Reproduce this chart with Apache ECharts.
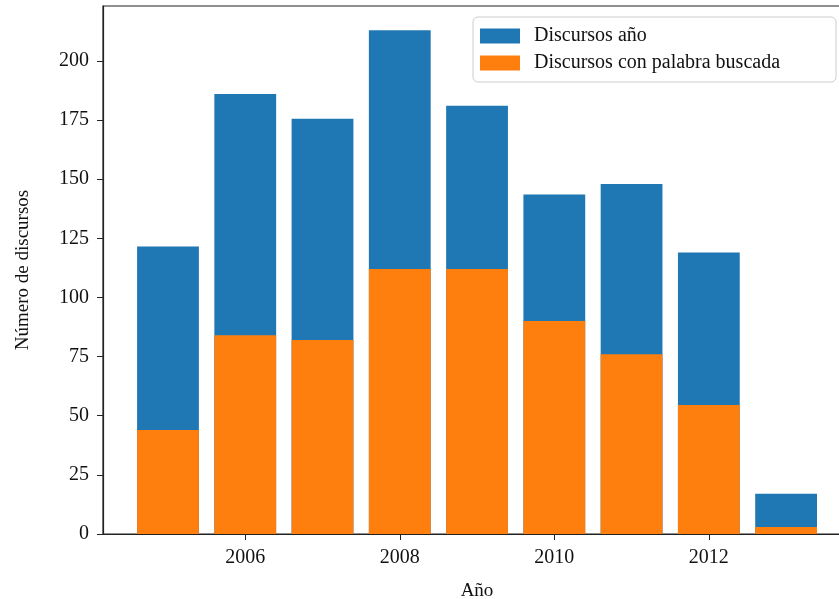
<!DOCTYPE html>
<html>
<head>
<meta charset="utf-8">
<script src="https://cdn.jsdelivr.net/npm/echarts@6/dist/echarts.min.js"></script>
<style>
  html, body { margin: 0; padding: 0; background: #fff; }
  #main { width: 839px; height: 599px; }
</style>
</head>
<body>
<div id="main"></div>
<script>
var years = [2005, 2006, 2007, 2008, 2009, 2010, 2011, 2012, 2013];
var totalSpeeches = [121.5, 186, 175.5, 213, 181, 143.5, 148, 119, 17];
var keywordSpeeches = [44, 84, 82, 112, 112, 90, 76, 54.5, 3];
var xTicks = [2006, 2008, 2010, 2012];
var yTicks = [0, 25, 50, 75, 100, 125, 150, 175, 200];

function pairs(vals) {
    var out = [];
    for (var i = 0, l = years.length; i < l; i++) {
        out.push([years[i], vals[i]]);
    }
    return out;
}

var myChart = echarts.init(document.getElementById('main'));
var font = 'Liberation Serif';

var option = {
    animation: false,
    textStyle: { fontFamily: font },
    grid: {
        left: 103,
        top: 6,
        width: 748,
        height: 528,
        containLabel: false,
        outerBoundsMode: 'none',
        show: true,
        borderColor: '#222',
        borderWidth: 1.2
    },
    legend: {
        orient: 'vertical',
        left: 473,
        top: 17,
        icon: 'rect',
        itemWidth: 40,
        itemHeight: 15,
        itemGap: 7,
        padding: [9, 56, 9, 7],
        borderColor: '#ccc',
        borderWidth: 1,
        borderRadius: 5,
        textStyle: { fontFamily: font, fontSize: 20, color: '#111', padding: [0, 0, 0, 9] },
        data: ['Discursos año', 'Discursos con palabra buscada']
    },
    xAxis: {
        type: 'value',
        min: 2004.159,
        max: 2013.84,
        name: 'Año',
        nameLocation: 'middle',
        nameGap: 48,
        nameTextStyle: { fontFamily: font, fontSize: 19, color: '#111' },
        splitLine: { show: false },
        axisLine: { lineStyle: { color: '#222', width: 1.2 } },
        axisTick: { customValues: xTicks, length: 6, lineStyle: { color: '#222' } },
        axisLabel: {
            customValues: xTicks,
            fontFamily: font, fontSize: 20, color: '#111', margin: 14,
            formatter: function (v) { return String(v); }
        }
    },
    yAxis: {
        type: 'value',
        min: 0,
        max: 223.2,
        name: 'Número de discursos',
        nameLocation: 'middle',
        nameGap: 70,
        nameTextStyle: { fontFamily: font, fontSize: 19, color: '#111' },
        splitLine: { show: false },
        axisLine: { show: true, lineStyle: { color: '#222', width: 1.2 } },
        axisTick: { show: true, customValues: yTicks, length: 6, lineStyle: { color: '#222' } },
        axisLabel: {
            customValues: yTicks,
            fontFamily: font, fontSize: 20, color: '#111', margin: 14
        }
    },
    series: [{
        name: 'Discursos año',
        type: 'bar',
        barWidth: 61.8,
        barGap: '-100%',
        itemStyle: { color: '#1f77b4' },
        data: pairs(totalSpeeches)
    }, {
        name: 'Discursos con palabra buscada',
        type: 'bar',
        barWidth: 61.8,
        barGap: '-100%',
        itemStyle: { color: '#ff7f0e' },
        data: pairs(keywordSpeeches)
    }]
};

myChart.setOption(option);
</script>
</body>
</html>
